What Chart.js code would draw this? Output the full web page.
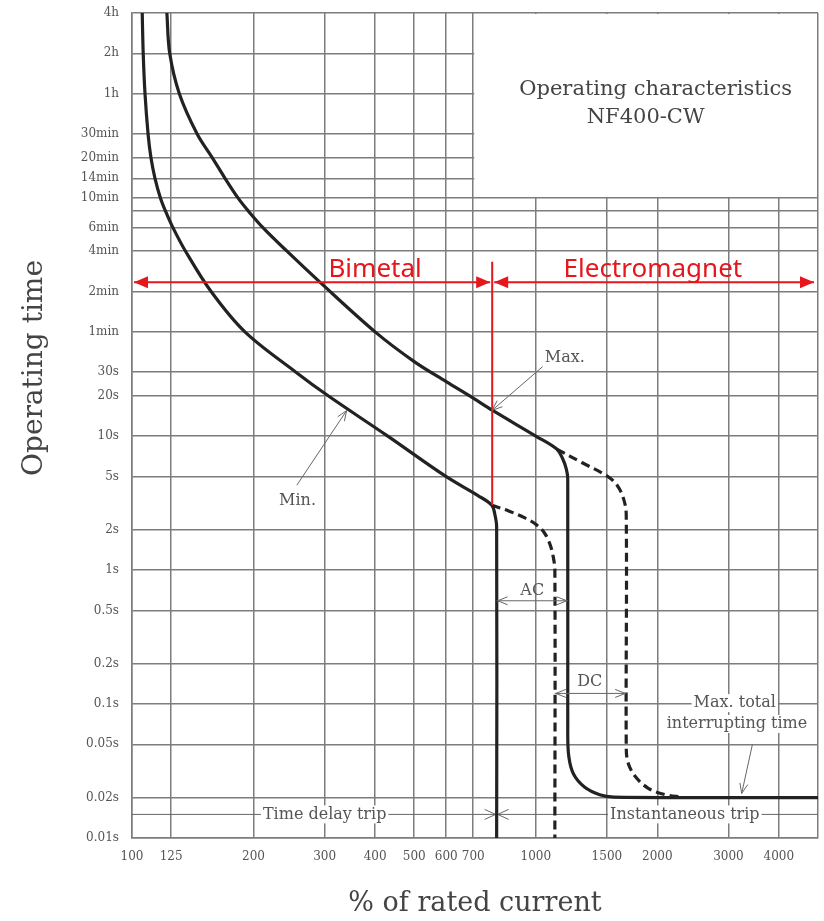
<!DOCTYPE html>
<html>
<head>
<meta charset="utf-8">
<script src="https://cdn.jsdelivr.net/npm/chart.js@4.4.1/dist/chart.umd.min.js"></script>
<style>
html,body{margin:0;padding:0;background:#fff;}
</style>
</head>
<body>
<canvas id="grafico" width="824" height="921"></canvas>
<script>
// axis ticks (% of rated current / seconds)
const xTicks = [100,125,200,300,400,500,600,700,1000,1500,2000,3000,4000,5000];
const xLabels = ['100','125','200','300','400','500','600','700','1000','1500','2000','3000','4000',''];
const yTicks = [0.01,0.02,0.05,0.1,0.2,0.5,1,2,5,10,20,30,60,120,240,360,480,600,840,1200,1800,3600,7200,14400];
const yLabels = ['0.01s','0.02s','0.05s','0.1s','0.2s','0.5s','1s','2s','5s','10s','20s','30s','1min','2min','4min','6min','','10min','14min','20min','30min','1h','2h','4h'];

// max curve (AC)
const maxPct = [122,124,131,145,158,170,183,194,211,242,292,400,500,600,700,780,1000,1127,1165,1190,1200,1200,1208,1240,1320,1440,1560,5000];
const maxSec = [14400,7200,3600,1800,1200,840,600,480,360,240,141,60,36,25.5,19.2,15.6,10,8,6.8,5.7,4.8,0.06,0.04,0.03,0.024,0.021,0.0202,0.02];
// min curve (AC)
const minPct = [106,106.6,107.7,109.6,111.4,114,117.6,121,126.3,135.7,157,190.4,254.7,306,430,599,719,778,792,800,800];
const minSec = [14400,7200,3600,1800,1200,840,600,480,360,240,120,60,30,20,10,5,3.6,3.05,2.6,2.1,0.01];
// DC branches (dashed)
const maxDcPct = [1127,1300,1500,1590,1650,1675,1675,1690,1760,1900,2100,2300];
const maxDcSec = [8,6.35,5.05,4.3,3.4,2.6,0.05,0.037,0.029,0.0235,0.021,0.0202];
const minDcPct = [778,860,940,1000,1050,1085,1105,1115,1115];
const minDcSec = [3.05,2.75,2.45,2.2,1.9,1.55,1.25,1.0,0.01];

// bimetal / electromagnet boundary
const splitPct = 780;
const bandSec = 141;

const toPts = (xs, ys) => xs.map((x, i) => ({x: x, y: ys[i]}));

const serif = 'DejaVu Serif';
const gray = '#555';
const noPad = s => { s.paddingTop = 0; s.paddingBottom = 0; s.paddingLeft = 0; s.paddingRight = 0; };

function head(ctx, x1, y1, x2, y2, len, half, filled) {
  const a = Math.atan2(y2 - y1, x2 - x1);
  const bx = x2 - len * Math.cos(a), by = y2 - len * Math.sin(a);
  const nx = -Math.sin(a) * half, ny = Math.cos(a) * half;
  ctx.beginPath();
  ctx.moveTo(bx + nx, by + ny);
  ctx.lineTo(x2, y2);
  ctx.lineTo(bx - nx, by - ny);
  if (filled) { ctx.closePath(); ctx.fill(); } else { ctx.stroke(); }
}

function boxText(ctx, txt, x, y, font, color) {
  ctx.font = font;
  const w = ctx.measureText(txt).width;
  ctx.fillStyle = '#fff';
  ctx.fillRect(x - w / 2 - 2, y - 9, w + 4, 18);
  ctx.fillStyle = color;
  ctx.textAlign = 'center';
  ctx.textBaseline = 'middle';
  ctx.fillText(txt, x, y);
}

const extras = {
  id: 'extras',
  beforeDatasetsDraw(c) {
    const ctx = c.ctx, X = c.scales.x, Y = c.scales.y;
    const px = v => X.getPixelForValue(v), py = v => Y.getPixelForValue(v);
    ctx.save();
    // title box
    const bx1 = px(700), bx2 = px(5000), by1 = py(14400), by2 = py(600);
    ctx.fillStyle = '#fff';
    ctx.fillRect(bx1 + 1, by1 + 1, bx2 - bx1 - 2, by2 - by1 - 2);
    ctx.fillStyle = '#444';
    ctx.textAlign = 'center';
    ctx.textBaseline = 'middle';
    ctx.font = '21px "' + serif + '"';
    const cx = (bx1 + bx2) / 2;
    ctx.fillText('Operating characteristics', cx + 10, by1 + 77);
    ctx.fillText('NF400-CW', cx, by1 + 105);

    // trip zones at 0.015 s
    const yt = py(0.015), xs = px(800);
    ctx.strokeStyle = '#666';
    ctx.lineWidth = 1;
    ctx.beginPath();
    ctx.moveTo(px(100), yt); ctx.lineTo(px(5000), yt);
    ctx.stroke();
    head(ctx, xs - 20, yt, xs - 1, yt, 11, 5, false);
    head(ctx, xs + 20, yt, xs + 1, yt, 11, 5, false);
    const f = '16px "' + serif + '"';
    boxText(ctx, 'Time delay trip', px(300), yt, f, gray);
    boxText(ctx, 'Instantaneous trip', px(2340), yt, f, gray);
    boxText(ctx, 'Max. total', px(3110), py(0.1016), f, gray);
    boxText(ctx, 'interrupting time', px(3150), py(0.071), f, gray);
    ctx.restore();
  },
  afterDatasetsDraw(c) {
    const ctx = c.ctx, X = c.scales.x, Y = c.scales.y;
    const px = v => X.getPixelForValue(v), py = v => Y.getPixelForValue(v);
    ctx.save();
    // red bimetal / electromagnet markers
    const red = '#e5161c';
    const ys = py(bandSec), xs = px(splitPct);
    ctx.strokeStyle = red; ctx.fillStyle = red; ctx.lineWidth = 2;
    ctx.beginPath();
    ctx.moveTo(xs, py(200)); ctx.lineTo(xs, py(3.05));
    ctx.moveTo(px(100) + 2, ys); ctx.lineTo(xs - 2, ys);
    ctx.moveTo(xs + 2, ys); ctx.lineTo(px(5000) - 4, ys);
    ctx.stroke();
    head(ctx, px(100) + 30, ys, px(100) + 2, ys, 14, 6, true);
    head(ctx, xs - 30, ys, xs - 2, ys, 14, 6, true);
    head(ctx, xs + 30, ys, xs + 2, ys, 14, 6, true);
    head(ctx, px(5000) - 30, ys, px(5000) - 4, ys, 14, 6, true);
    ctx.font = '26px "Noto Sans"';
    ctx.textAlign = 'center';
    ctx.textBaseline = 'alphabetic';
    ctx.fillText('Bimetal', px(400), ys - 5);
    ctx.fillText('Electromagnet', px(1950), ys - 5);

    // gray pointer arrows
    ctx.strokeStyle = '#666'; ctx.fillStyle = gray; ctx.lineWidth = 1;
    const ptr = (x1, y1, x2, y2) => {
      ctx.beginPath(); ctx.moveTo(px(x1), py(y1)); ctx.lineTo(px(x2), py(y2)); ctx.stroke();
      head(ctx, px(x1), py(y1), px(x2), py(y2), 10, 4, false);
    };
    ptr(1040, 33, 780, 15.6);
    ptr(256, 4.3, 340, 15.5);
    ptr(3440, 0.05, 3236, 0.0215);
    // AC / DC spans
    const span = (a, b, t) => {
      ctx.beginPath(); ctx.moveTo(px(a), py(t)); ctx.lineTo(px(b), py(t)); ctx.stroke();
      head(ctx, px(a) + 15, py(t), px(a) + 1, py(t), 10, 4, false);
      head(ctx, px(b) - 15, py(t), px(b) - 1, py(t), 10, 4, false);
    };
    span(800, 1200, 0.59);
    span(1115, 1675, 0.12);
    ctx.font = '16px "' + serif + '"';
    ctx.textAlign = 'center';
    ctx.textBaseline = 'middle';
    ctx.fillText('Max.', px(1180), py(38.5));
    ctx.fillText('Min.', px(257), py(3.3));
    ctx.fillText('AC', px(980), py(0.7));
    ctx.fillText('DC', px(1360), py(0.146));
    ctx.restore();
  },
  afterDraw(c) {
    const ctx = c.ctx;
    ctx.save();
    ctx.translate(35, 368);
    ctx.rotate(-Math.PI / 2);
    ctx.font = '28px "' + serif + '"';
    ctx.fillStyle = '#444';
    ctx.textAlign = 'center';
    ctx.textBaseline = 'middle';
    ctx.fillText('Operating time', 0, 0);
    ctx.restore();
  }
};

const curve = '#222';
const ctx = document.getElementById('grafico').getContext('2d');
const myChart = new Chart(ctx, {
  type: 'scatter',
  data: {
    datasets: [
      {label: 'Max DC', data: toPts(maxDcPct, maxDcSec), borderDash: [9, 5]},
      {label: 'Min DC', data: toPts(minDcPct, minDcSec), borderDash: [9, 5]},
      {label: 'Max', data: toPts(maxPct, maxSec)},
      {label: 'Min', data: toPts(minPct, minSec)}
    ].map(d => Object.assign({
      showLine: true, borderColor: curve, borderWidth: 3.2, pointRadius: 0, tension: 0.35, fill: false
    }, d))
  },
  options: {
    responsive: false,
    animation: false,
    layout: {padding: {top: 13, right: 6, left: 0, bottom: 0}},
    plugins: {legend: {display: false}, tooltip: {enabled: false}},
    scales: {
      x: {
        type: 'logarithmic', min: 100, max: 5000,
        afterBuildTicks: s => { s.ticks = xTicks.map(v => ({value: v})); },
        afterFit: s => { s.height = 83; noPad(s); },
        ticks: {autoSkip: false, maxRotation: 0, padding: 12, color: gray,
          font: {family: serif, size: 12}, callback: (v, i) => xLabels[i]},
        grid: {color: '#7d7d7d', lineWidth: 1.5, drawTicks: false},
        border: {color: '#7d7d7d', width: 1.5},
        title: {display: true, text: '% of rated current', color: '#444',
          font: {family: serif, size: 27}, padding: {top: 0, bottom: 1}}
      },
      y: {
        type: 'logarithmic', min: 0.01, max: 14400,
        afterBuildTicks: s => { s.ticks = yTicks.map(v => ({value: v})); },
        afterFit: s => { s.width = 132; noPad(s); },
        ticks: {autoSkip: false, padding: 13, color: gray,
          font: {family: serif, size: 12}, callback: (v, i) => yLabels[i]},
        grid: {color: '#7d7d7d', lineWidth: 1.5, drawTicks: false},
        border: {color: '#7d7d7d', width: 1.5}
      }
    }
  },
  plugins: [extras]
});
</script>
</body>
</html>
